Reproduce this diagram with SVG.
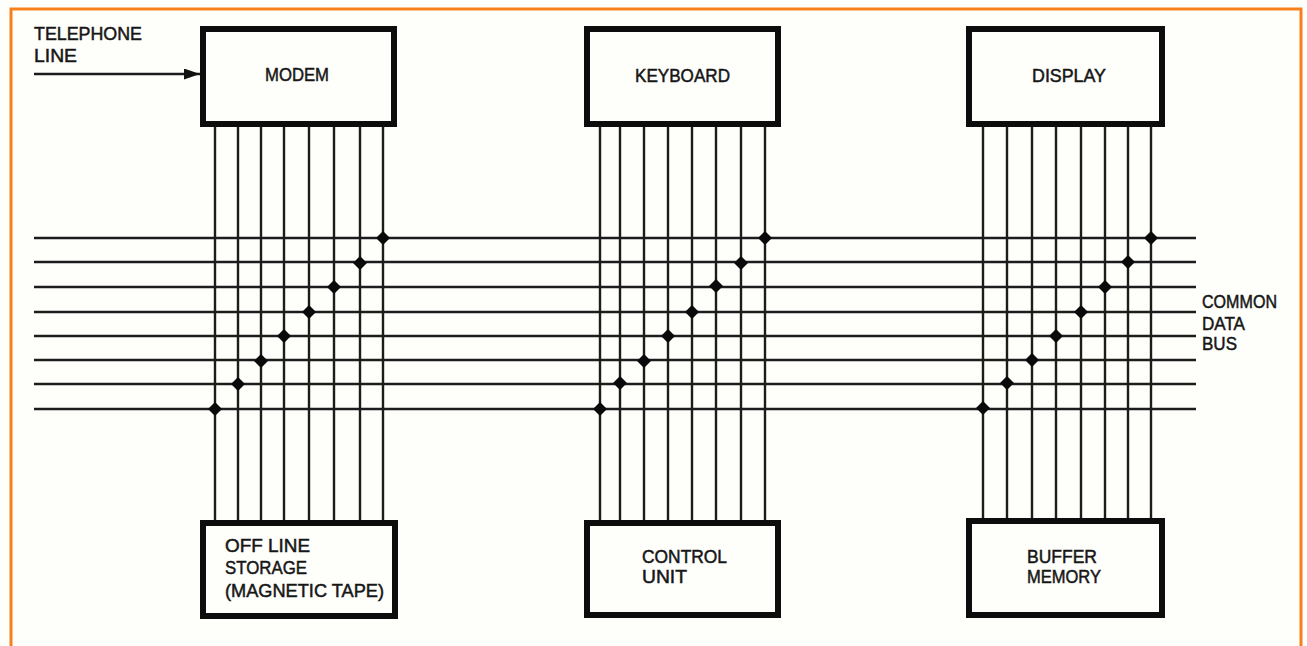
<svg xmlns="http://www.w3.org/2000/svg" width="1307" height="646" viewBox="0 0 1307 646">
<style>
.box{fill:#fefefb;stroke:#0d0d0d;stroke-width:6}
.w{stroke:#1c1c1c;stroke-width:2.400;fill:none}
.b{stroke:#f5801c;stroke-width:3;fill:none}
.d{fill:#0a0a0a}
text{font-family:"Liberation Sans",Arial,sans-serif;font-size:19px;fill:#161616;stroke:#161616;stroke-width:.5}
</style>
<defs>
<marker id="arr" markerUnits="userSpaceOnUse" markerWidth="18" markerHeight="12" refX="16" refY="5.500" orient="auto"><path d="M0 0L16 5.500L0 11Z" fill="#111"/></marker>
<path id="dot" class="d" d="M0-7L7 0L0 7L-7 0Z"/>
</defs>
<rect width="1307" height="646" fill="#fefefb"/>
<path class="b" d="M11 646V9H1301V646"/>
<g id="connectors">
<path class="w" d="M34 74H200" marker-end="url(#arr)"/>
<path class="w" d="M34 238H1196M34 262H1196M34 287H1196M34 312H1196M34 336H1196M34 360H1196M34 384H1196M34 409H1196"/>
<path class="w" d="M215 127V520M238 127V520M261 127V520M284 127V520M309 127V520M334 127V520M360 127V520M383 127V520"/>
<path class="w" d="M600 127V520M620 127V520M644 127V520M668 127V520M692 127V520M716 127V520M741 127V520M765 127V520"/>
<path class="w" d="M983 127V518M1007 127V518M1032 127V518M1056 127V518M1081 127V518M1105 127V518M1128 127V518M1151 127V518"/>
<use href="#dot" x="215" y="409"/><use href="#dot" x="238" y="384"/><use href="#dot" x="261" y="361"/><use href="#dot" x="284" y="336"/><use href="#dot" x="309" y="312"/><use href="#dot" x="334" y="287"/><use href="#dot" x="360" y="263"/><use href="#dot" x="383" y="238"/>
<use href="#dot" x="600" y="409"/><use href="#dot" x="620" y="383"/><use href="#dot" x="644" y="361"/><use href="#dot" x="668" y="336"/><use href="#dot" x="692" y="312"/><use href="#dot" x="716" y="286"/><use href="#dot" x="741" y="263"/><use href="#dot" x="765" y="238"/>
<use href="#dot" x="983" y="408"/><use href="#dot" x="1007" y="383"/><use href="#dot" x="1032" y="360"/><use href="#dot" x="1056" y="336"/><use href="#dot" x="1081" y="312"/><use href="#dot" x="1105" y="287"/><use href="#dot" x="1128" y="262"/><use href="#dot" x="1151" y="238"/>
</g>
<g id="telephone-line"><text x="34" y="40" textLength="108" lengthAdjust="spacingAndGlyphs">TELEPHONE</text><text x="34" y="62" textLength="43" lengthAdjust="spacingAndGlyphs">LINE</text></g>
<g id="modem"><rect class="box" x="203" y="29" width="191" height="95"/><text x="265" y="81" textLength="64" lengthAdjust="spacingAndGlyphs">MODEM</text></g>
<g id="keyboard"><rect class="box" x="587" y="29" width="191" height="95"/><text x="635" y="82" textLength="95" lengthAdjust="spacingAndGlyphs">KEYBOARD</text></g>
<g id="display"><rect class="box" x="969" y="29" width="193" height="95"/><text x="1032" y="82" textLength="74" lengthAdjust="spacingAndGlyphs">DISPLAY</text></g>
<g id="storage"><rect class="box" x="203" y="523" width="192" height="93"/><text x="225" y="552" textLength="85" lengthAdjust="spacingAndGlyphs">OFF LINE</text><text x="225" y="574" textLength="82" lengthAdjust="spacingAndGlyphs">STORAGE</text><text x="225" y="597" textLength="159" lengthAdjust="spacingAndGlyphs">(MAGNETIC TAPE)</text></g>
<g id="control-unit"><rect class="box" x="587" y="523" width="191" height="92"/><text x="642" y="563" textLength="85" lengthAdjust="spacingAndGlyphs">CONTROL</text><text x="642" y="583" textLength="45" lengthAdjust="spacingAndGlyphs">UNIT</text></g>
<g id="buffer-memory"><rect class="box" x="969" y="521" width="193" height="94"/><text x="1027" y="563" textLength="70" lengthAdjust="spacingAndGlyphs">BUFFER</text><text x="1027" y="583" textLength="74" lengthAdjust="spacingAndGlyphs">MEMORY</text></g>
<g id="common-data-bus"><text x="1202" y="308" textLength="75" lengthAdjust="spacingAndGlyphs">COMMON</text><text x="1202" y="330" textLength="43" lengthAdjust="spacingAndGlyphs">DATA</text><text x="1202" y="350" textLength="35" lengthAdjust="spacingAndGlyphs">BUS</text></g>
</svg>
